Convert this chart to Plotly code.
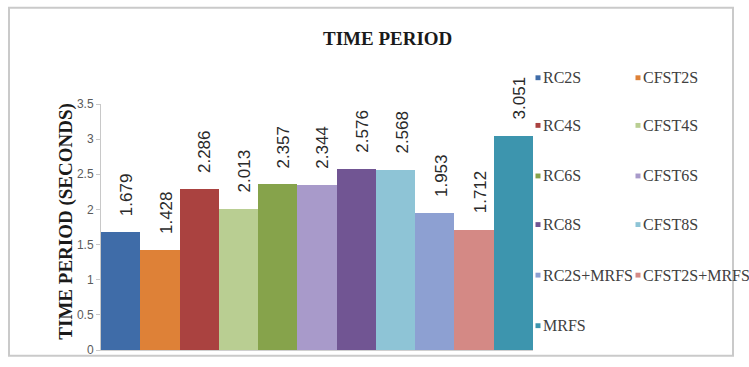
import plotly.graph_objects as go

# Fundamental time period of each structural model
models = ["RC2S", "CFST2S", "RC4S", "CFST4S", "RC6S", "CFST6S",
          "RC8S", "CFST8S", "RC2S+MRFS", "CFST2S+MRFS", "MRFS"]
periods = [1.679, 1.428, 2.286, 2.013, 2.357, 2.344,
           2.576, 2.568, 1.953, 1.712, 3.051]
colors = ["#3F6CA8", "#DE8137", "#AA4240", "#B9CE92", "#86A34B", "#A89ACA",
          "#715593", "#8EC4D6", "#8DA0D2", "#D48985", "#3D95AE"]
y_ticks = [0, 0.5, 1, 1.5, 2, 2.5, 3, 3.5]

W, H = 749, 367
L, R, T, B = 101, 216, 104, 10
PW, PH = W - L - R, H - T - B
SERIF = "Liberation Serif"


def px(x):
    return (x - L) / PW


def py(y):
    return (H - B - y) / PH


fig = go.Figure()
fig.add_trace(go.Bar(
    x=list(range(len(models))),
    y=periods,
    marker=dict(color=colors, line=dict(width=0)),
    width=1,
    hoverinfo="skip",
    showlegend=False,
))

annotations = []
# value labels above each bar
for i, v in enumerate(periods):
    annotations.append(dict(
        x=i, y=v, xref="x", yref="y", text=f"{v:.3f}", showarrow=False,
        textangle=-90, yanchor="bottom", xanchor="center", yshift=14, xshift=6,
        font=dict(family="Liberation Sans", size=17, color="#2a2a2a"),
    ))

# two-column legend
shapes = []
col_x = [538, 638]
row_y = [77, 126, 178, 228, 280, 332]
for k, (name, c) in enumerate(zip(models, colors)):
    cx = col_x[k % 2]
    cy = row_y[k // 2]
    shapes.append(dict(type="rect", xref="paper", yref="paper",
                       x0=px(cx - 2.5), x1=px(cx + 2.5),
                       y0=py(cy + 2.5), y1=py(cy - 2.5),
                       fillcolor=c, line=dict(width=0)))
    annotations.append(dict(
        x=px(cx + 3), y=py(cy), xref="paper", yref="paper", text=name,
        showarrow=False, xanchor="left", yanchor="middle",
        font=dict(family=SERIF, size=16, color="#404040"),
    ))

# outer chart border
shapes.append(dict(type="rect", xref="paper", yref="paper",
                   x0=px(9), x1=px(733), y0=py(363), y1=py(5),
                   line=dict(color="#cacaca", width=2), fillcolor="rgba(0,0,0,0)",
                   layer="below"))

annotations.append(dict(
    x=px(387), y=py(37), xref="paper", yref="paper", text="<b>TIME PERIOD</b>",
    showarrow=False, xanchor="center", yanchor="middle",
    font=dict(family=SERIF, size=19, color="#1a1a1a"),
))
annotations.append(dict(
    x=px(66), y=py(225), xref="paper", yref="paper",
    text="<b>TIME PERIOD (SECONDS)</b>", textangle=-90,
    showarrow=False, xanchor="center", yanchor="middle",
    font=dict(family=SERIF, size=19, color="#1a1a1a"),
))

fig.update_layout(
    width=W, height=H,
    margin=dict(l=L, r=R, t=T, b=B),
    paper_bgcolor="white", plot_bgcolor="white",
    bargap=0,
    shapes=shapes,
    annotations=annotations,
    xaxis=dict(range=[-0.5, len(models) - 0.5], showticklabels=False,
               showgrid=False, zeroline=False, showline=True,
               linecolor="#d0d0d0", linewidth=1, ticks=""),
    yaxis=dict(range=[0, 3.5], tickvals=y_ticks, ticktext=[f"{t:g}" for t in y_ticks],
               showgrid=False, zeroline=False, showline=True,
               linecolor="#c8c8c8", linewidth=1, ticks="outside", ticklen=4,
               tickcolor="#c8c8c8",
               tickfont=dict(family="Liberation Sans", size=12, color="#5a5a5a")),
)

fig.write_html("out.html")
